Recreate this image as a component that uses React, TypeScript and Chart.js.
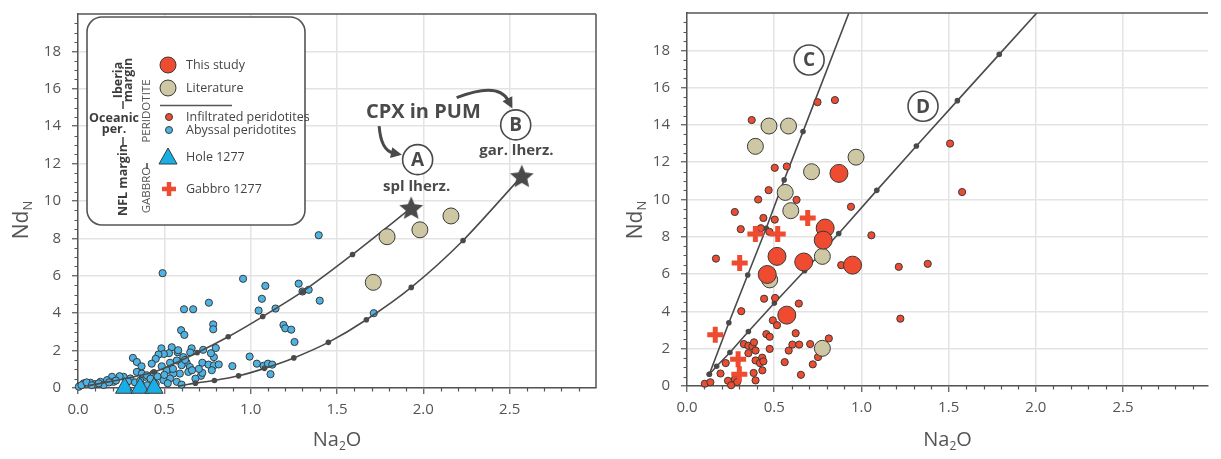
import React, { useEffect, useRef } from 'react';
import { Chart, registerables } from 'chart.js';
Chart.register(...registerables);

type P = [number, number];

// ---------- LEFT PANEL DATA ----------
const abyssalPeridotites: P[] = [
  [1.394, 8.17], [0.956, 5.84], [1.085, 5.46], [1.278, 5.58], [1.3, 5.16], [1.336, 5.25], [1.065, 4.77], [1.4, 4.67],
  [0.614, 4.21], [0.667, 4.21], [0.758, 4.56], [1.046, 4.14], [1.144, 4.25], [0.597, 3.09], [0.616, 2.84], [0.783, 3.4],
  [0.783, 3.14], [1.19, 3.37], [1.2, 3.19], [1.235, 3.12], [1.713, 4.0], [1.254, 2.46], [0.49, 6.14], [0.994, 1.68],
  [1.036, 1.3], [1.075, 1.19], [1.1, 1.3], [1.125, 1.25], [1.115, 0.74], [0.894, 1.17], [0.658, 2.12], [0.725, 2.04],
  [0.798, 2.14], [0.787, 1.65], [0.77, 1.86], [0.72, 1.35], [0.756, 1.25], [0.787, 1.21], [0.815, 1.26], [0.775, 0.95],
  [0.712, 0.65], [0.72, 0.81], [0.483, 2.12], [0.543, 2.18], [0.577, 1.91], [0.527, 1.86], [0.497, 1.82], [0.466, 1.79],
  [0.45, 1.56], [0.427, 1.3], [0.533, 1.35], [0.572, 1.47], [0.61, 1.65], [0.629, 1.35], [0.648, 1.12], [0.639, 0.86],
  [0.59, 0.77], [0.552, 0.77], [0.514, 0.95], [0.485, 1.16], [0.437, 0.77], [0.389, 0.6], [0.533, 0.51], [0.572, 0.33],
  [0.495, 0.42], [0.318, 1.61], [0.341, 1.39], [0.368, 1.16], [0.341, 0.86], [0.37, 0.77], [0.399, 0.68], [0.303, 0.51],
  [0.264, 0.6], [0.241, 0.63], [0.197, 0.6], [0.168, 0.42], [0.13, 0.33], [0.072, 0.28], [0.033, 0.25], [0.005, 0.07],
  [0.1, 0.21], [0.149, 0.16], [0.206, 0.33], [0.02, 0.15], [0.05, 0.3], [0.08, 0.15], [0.12, 0.25], [0.18, 0.3],
  [0.22, 0.4], [0.29, 0.35], [0.33, 0.3], [0.36, 0.4], [0.42, 0.5], [0.46, 0.62], [0.5, 0.7], [0.55, 1.02],
  [0.6, 1.22], [0.62, 1.5], [0.66, 0.95], [0.68, 0.5], [0.7, 1.02], [0.58, 2.02], [0.65, 1.9], [0.45, 0.22],
  [0.52, 0.25], [0.6, 0.18], [0.4, 0.15],
];
const hole1277: P[] = [[0.27, 0], [0.36, 0], [0.44, 0]];
const literatureLeft: P[] = [[1.71, 5.65], [1.79, 8.09], [1.98, 8.46], [2.16, 9.2]];
const modelCurveA: P[] = [[0.05, 0.1], [0.44, 0.86], [0.69, 1.89], [0.87, 2.74], [1.07, 3.82], [1.3, 5.15], [1.59, 7.14], [1.93, 9.63]];
const modelCurveB: P[] = [[0.58, 0.1], [0.68, 0.26], [0.79, 0.4], [0.93, 0.65], [1.08, 1.05], [1.25, 1.61], [1.45, 2.44], [1.67, 3.65], [1.93, 5.38], [2.23, 7.89], [2.57, 11.33]];
const splLherzolite: P[] = [[1.93, 9.63]];
const garLherzolite: P[] = [[2.57, 11.33]];

// ---------- RIGHT PANEL DATA ----------
const thisStudy: P[] = [[0.871, 11.4], [0.792, 8.47], [0.781, 7.82], [0.516, 6.95], [0.669, 6.65], [0.949, 6.48], [0.46, 5.98], [0.572, 3.8]];
const literatureRight: P[] = [[0.47, 13.94], [0.582, 13.94], [0.392, 12.85], [0.969, 12.27], [0.714, 11.49], [0.563, 10.38], [0.595, 9.4], [0.776, 6.95], [0.474, 5.69], [0.776, 2.02]];
const gabbro1277: P[] = [[0.692, 9.01], [0.392, 8.15], [0.52, 8.15], [0.302, 6.6], [0.162, 2.75], [0.293, 1.44], [0.3, 0.63]];
const infiltratedPeridotites: P[] = [
  [0.371, 14.26], [0.748, 15.22], [0.848, 15.33], [0.503, 11.7], [0.572, 11.77], [0.468, 10.5], [0.408, 10.0], [0.628, 9.98],
  [0.274, 9.33], [0.438, 9.01], [0.503, 8.92], [0.94, 9.61], [0.308, 8.41], [0.423, 8.46], [0.472, 8.27], [1.057, 8.08],
  [0.166, 6.83], [0.884, 6.48], [1.214, 6.39], [1.38, 6.55], [0.442, 4.68], [0.505, 4.72], [0.311, 4.01], [0.641, 4.42],
  [1.223, 3.61], [0.492, 3.52], [0.516, 3.26], [0.455, 2.78], [0.474, 2.64], [0.623, 2.83], [0.813, 2.55], [0.326, 2.25],
  [0.352, 2.16], [0.375, 2.13], [0.384, 2.34], [0.393, 1.9], [0.604, 2.22], [0.643, 2.22], [0.706, 2.25], [0.474, 1.99],
  [0.583, 1.9], [0.352, 1.76], [0.393, 1.37], [0.418, 1.23], [0.431, 1.52], [0.438, 1.32], [0.222, 1.23], [0.56, 1.28],
  [0.721, 1.16], [0.751, 1.55], [0.432, 0.84], [0.192, 0.67], [0.382, 0.7], [0.653, 0.6], [0.393, 0.3], [0.274, 0.35],
  [0.235, 0.28], [0.287, 0.21], [0.253, 0.04], [0.102, 0.12], [0.134, 0.2], [1.508, 13.0], [1.577, 10.4],
];
const modelLineC: P[] = [[0.128, 0.63], [0.24, 3.39], [0.348, 5.95], [0.454, 8.46], [0.557, 11.05], [0.665, 13.64], [0.928, 20]];
const modelLineD: P[] = [[0.128, 0.63], [0.17, 1.06], [0.246, 1.8], [0.352, 2.92], [0.501, 4.45], [0.674, 6.18], [0.87, 8.18], [1.088, 10.49], [1.315, 12.87], [1.55, 15.3], [1.79, 17.78], [2.005, 20]];

// ---------- TICKS ----------
const xTickValues = [0, 0.5, 1.0, 1.5, 2.0, 2.5];
const yTickValues = [0, 2, 4, 6, 8, 10, 12, 14, 16, 18];

// ---------- ANNOTATION ANCHORS (data units) ----------
const labelCPX: P = [2.0, 14.75];
const circleA: P = [1.967, 12.21];
const textSpl: P = [1.961, 10.74];
const circleB: P = [2.535, 14.07];
const textGar: P = [2.539, 12.68];
const arrow1: P[] = [[1.744, 14.0], [1.755, 12.7], [1.876, 12.47]];
const arrow2: P[] = [[2.193, 15.53], [2.435, 16.4], [2.516, 14.95]];
const circleC: P = [0.7, 17.48];
const circleD: P = [1.353, 15.0];

const FONT = "'Open Sans', 'Noto Sans', sans-serif";
const DARK = '#4a4a4a';
const RED = '#ee4b30';
const TAN = '#cdc7a3';
const BLUE = '#4db3e4';
const TRI = '#18afe6';
const EDGE = '#3a3a3a';
const TEXT = '#555555';

const pts = (a: P[]) => a.map(([x, y]) => ({ x, y }));

function makeStar(size: number, color: string) {
  const c = document.createElement('canvas');
  c.width = size; c.height = size;
  const g = c.getContext('2d')!;
  const cx = size / 2, cy = size / 2 + 1, R = size / 2 - 0.5, r = R * 0.46;
  g.beginPath();
  for (let i = 0; i < 10; i++) {
    const a = -Math.PI / 2 + (i * Math.PI) / 5;
    const rad = i % 2 === 0 ? R : r;
    g.lineTo(cx + rad * Math.cos(a), cy + rad * Math.sin(a));
  }
  g.closePath();
  g.fillStyle = color;
  g.fill();
  return c;
}

function subText(ctx: CanvasRenderingContext2D, main: string, sub: string, tail: string, cx: number, cy: number, rotate: boolean, size: number) {
  ctx.save();
  ctx.translate(cx, cy);
  if (rotate) ctx.rotate(-Math.PI / 2);
  ctx.fillStyle = TEXT;
  ctx.textBaseline = 'middle';
  ctx.textAlign = 'left';
  const big = `${size}px ${FONT}`;
  const small = `${Math.round(size * 0.62)}px ${FONT}`;
  ctx.font = big; const w1 = ctx.measureText(main).width; const w3 = ctx.measureText(tail).width;
  ctx.font = small; const w2 = ctx.measureText(sub).width;
  let x = -(w1 + w2 + w3) / 2;
  ctx.font = big; ctx.fillText(main, x, 0); x += w1;
  ctx.font = small; ctx.fillText(sub, x, size * 0.32); x += w2;
  ctx.font = big; ctx.fillText(tail, x, 0);
  ctx.restore();
}

function circleLabel(ctx: CanvasRenderingContext2D, x: number, y: number, letter: string) {
  ctx.save();
  ctx.beginPath();
  ctx.arc(x, y, 15, 0, Math.PI * 2);
  ctx.fillStyle = '#fff';
  ctx.fill();
  ctx.lineWidth = 1.6;
  ctx.strokeStyle = DARK;
  ctx.stroke();
  ctx.fillStyle = DARK;
  ctx.font = `bold 19px ${FONT}`;
  ctx.textAlign = 'center';
  ctx.textBaseline = 'middle';
  ctx.fillText(letter, x, y + 1);
  ctx.restore();
}

function curvedArrow(ctx: CanvasRenderingContext2D, p: { x: number; y: number }[]) {
  const [s, c, e] = p;
  ctx.save();
  ctx.strokeStyle = DARK;
  ctx.fillStyle = DARK;
  ctx.lineWidth = 3;
  const ang = Math.atan2(e.y - c.y, e.x - c.x);
  const L = 11, W = 5.5;
  const bx = e.x - Math.cos(ang) * L * 0.8, by = e.y - Math.sin(ang) * L * 0.8;
  ctx.beginPath();
  ctx.moveTo(s.x, s.y);
  ctx.quadraticCurveTo(c.x, c.y, bx, by);
  ctx.stroke();
  ctx.beginPath();
  ctx.moveTo(e.x, e.y);
  ctx.lineTo(e.x - Math.cos(ang) * L - Math.sin(ang) * W, e.y - Math.sin(ang) * L + Math.cos(ang) * W);
  ctx.lineTo(e.x - Math.cos(ang) * L + Math.sin(ang) * W, e.y - Math.sin(ang) * L - Math.cos(ang) * W);
  ctx.closePath();
  ctx.fill();
  ctx.restore();
}

const frameAndMinor = (drawRight: boolean) => ({
  id: 'frameMinor',
  afterDraw(chart: any) {
    const { ctx, chartArea: a, scales } = chart;
    const x = scales.x, y = scales.y;
    ctx.save();
    ctx.strokeStyle = '#555';
    ctx.lineWidth = 1.5;
    ctx.beginPath();
    ctx.moveTo(a.left, a.top); ctx.lineTo(a.right, a.top);
    if (drawRight) { ctx.moveTo(a.right, a.top); ctx.lineTo(a.right, a.bottom); }
    ctx.stroke();
    ctx.lineWidth = 1.2;
    ctx.beginPath();
    for (let i = 1; i * 0.1 <= x.max + 1e-9; i++) {
      if (i % 5 === 0) continue;
      const px = Math.round(x.getPixelForValue(i * 0.1)) + 0.5;
      ctx.moveTo(px, a.bottom); ctx.lineTo(px, a.bottom + 3.5);
    }
    for (let j = 1; j * 0.5 < y.max; j++) {
      if (j % 4 === 0) continue;
      const py = Math.round(y.getPixelForValue(j * 0.5)) + 0.5;
      ctx.moveTo(a.left - 3.5, py); ctx.lineTo(a.left, py);
    }
    ctx.stroke();
    ctx.restore();
  },
});

const axisTitles = (ndX: number) => ({
  id: 'axisTitles',
  afterDraw(chart: any) {
    const { ctx, chartArea: a } = chart;
    subText(ctx, 'Na', '2', 'O', (a.left + a.right) / 2, 440, false, 20);
    subText(ctx, 'Nd', 'N', '', ndX, 220, true, 21);
  },
});

const leftAnnotations = {
  id: 'leftAnnotations',
  afterDraw(chart: any) {
    const { ctx, scales } = chart;
    const px = (p: P) => ({ x: scales.x.getPixelForValue(p[0]), y: scales.y.getPixelForValue(p[1]) });
    ctx.save();
    ctx.fillStyle = DARK;
    ctx.textAlign = 'center';
    ctx.textBaseline = 'middle';
    ctx.font = `bold 20px ${FONT}`;
    const c = px(labelCPX); ctx.fillText('CPX in PUM', c.x, c.y);
    ctx.font = `bold 15px ${FONT}`;
    const s = px(textSpl); ctx.fillText('spl lherz.', s.x, s.y);
    const g = px(textGar); ctx.fillText('gar. lherz.', g.x, g.y);
    ctx.restore();
    const A = px(circleA); circleLabel(ctx, A.x, A.y, 'A');
    const B = px(circleB); circleLabel(ctx, B.x, B.y, 'B');
    curvedArrow(ctx, arrow1.map(px));
    curvedArrow(ctx, arrow2.map(px));

    // legend box
    ctx.save();
    const bx = 87, by = 17, bw = 218, bh = 208, r = 15;
    ctx.beginPath();
    ctx.moveTo(bx + r, by);
    ctx.arcTo(bx + bw, by, bx + bw, by + bh, r);
    ctx.arcTo(bx + bw, by + bh, bx, by + bh, r);
    ctx.arcTo(bx, by + bh, bx, by, r);
    ctx.arcTo(bx, by, bx + bw, by, r);
    ctx.closePath();
    ctx.fillStyle = '#fff';
    ctx.fill();
    ctx.lineWidth = 1.6;
    ctx.strokeStyle = '#555';
    ctx.stroke();

    const mark = (x: number, y: number, rad: number, fill: string) => {
      ctx.beginPath(); ctx.arc(x, y, rad, 0, Math.PI * 2);
      ctx.fillStyle = fill; ctx.fill();
      ctx.lineWidth = 1; ctx.strokeStyle = EDGE; ctx.stroke();
    };
    mark(168, 65, 8, RED);
    mark(168, 88, 8, TAN);
    mark(169, 117, 3.5, RED);
    mark(169, 130, 3.5, BLUE);
    // triangle
    ctx.beginPath();
    ctx.moveTo(168, 148); ctx.lineTo(177, 164); ctx.lineTo(159, 164); ctx.closePath();
    ctx.fillStyle = TRI; ctx.fill(); ctx.lineWidth = 1; ctx.strokeStyle = EDGE; ctx.stroke();
    // cross
    ctx.strokeStyle = RED; ctx.lineWidth = 4.5;
    ctx.beginPath(); ctx.moveTo(162, 189); ctx.lineTo(176, 189); ctx.moveTo(169, 182); ctx.lineTo(169, 196); ctx.stroke();
    // separator line
    ctx.strokeStyle = '#555'; ctx.lineWidth = 1.3;
    ctx.beginPath(); ctx.moveTo(160, 105.5); ctx.lineTo(232, 105.5); ctx.stroke();

    ctx.fillStyle = '#444';
    ctx.textAlign = 'left'; ctx.textBaseline = 'middle';
    ctx.font = `12.5px ${FONT}`;
    ctx.fillText('This study', 186, 65);
    ctx.fillText('Literature', 186, 88);
    ctx.fillText('Infiltrated peridotites', 186, 117);
    ctx.fillText('Abyssal peridotites', 186, 130);
    ctx.fillText('Hole 1277', 186, 157);
    ctx.fillText('Gabbro 1277', 186, 189);

    const rot = (t: string, x: number, y: number, font: string) => {
      ctx.save(); ctx.translate(x, y); ctx.rotate(-Math.PI / 2);
      ctx.font = font; ctx.textAlign = 'center'; ctx.textBaseline = 'middle';
      ctx.fillText(t, 0, 0); ctx.restore();
    };
    ctx.fillStyle = '#3c3c3c';
    rot('Iberia', 118, 80, `bold 12.5px ${FONT}`);
    rot('margin', 128, 80, `bold 12.5px ${FONT}`);
    rot('NFL margin', 123, 180, `bold 12.5px ${FONT}`);
    ctx.font = `bold 12.5px ${FONT}`; ctx.textAlign = 'center';
    ctx.fillText('Oceanic', 114, 118);
    ctx.fillText('per.', 114, 129);
    ctx.fillStyle = '#555';
    rot('PERIDOTITE', 147, 111, `11.5px ${FONT}`);
    rot('GABBRO', 147, 190, `11.5px ${FONT}`);
    ctx.strokeStyle = '#444'; ctx.lineWidth = 1.5;
    ctx.beginPath();
    ctx.moveTo(123, 101); ctx.lineTo(123, 109);
    ctx.moveTo(123, 137); ctx.lineTo(123, 145);
    ctx.moveTo(147, 163); ctx.lineTo(147, 169);
    ctx.stroke();
    ctx.restore();
  },
};

const rightAnnotations = {
  id: 'rightAnnotations',
  afterDraw(chart: any) {
    const { ctx, scales } = chart;
    const px = (p: P) => ({ x: scales.x.getPixelForValue(p[0]), y: scales.y.getPixelForValue(p[1]) });
    const C = px(circleC); circleLabel(ctx, C.x, C.y, 'C');
    const D = px(circleD); circleLabel(ctx, D.x, D.y, 'D');
  },
};

function options(xMax: number, yAxisWidth: number, xAxisHeight: number, padTop: number, padRight: number) {
  return {
    responsive: false,
    animation: false as const,
    devicePixelRatio: 1,
    events: [] as any[],
    layout: { padding: { top: padTop, right: padRight, left: 0, bottom: 0 } },
    plugins: { legend: { display: false }, tooltip: { enabled: false } },
    scales: {
      x: {
        type: 'linear' as const,
        min: 0,
        max: xMax,
        afterBuildTicks: (s: any) => { s.ticks = xTickValues.map((v) => ({ value: v })); },
        afterFit: (s: any) => { s.height = xAxisHeight; s.paddingLeft = 0; s.paddingRight = 0; s.paddingTop = 0; s.paddingBottom = 0; },
        grid: { color: '#e3e3e3', lineWidth: 1.5, tickLength: 6, tickColor: '#555', tickWidth: 1.2, drawTicks: true },
        border: { color: '#555', width: 1.5 },
        ticks: { color: TEXT, font: { family: FONT, size: 15 }, padding: 7, maxRotation: 0, autoSkip: false, callback: (v: any) => Number(v).toFixed(1) },
      },
      y: {
        type: 'linear' as const,
        min: 0,
        max: 20,
        afterBuildTicks: (s: any) => { s.ticks = yTickValues.map((v) => ({ value: v })); },
        afterFit: (s: any) => { s.width = yAxisWidth; s.paddingLeft = 0; s.paddingRight = 0; s.paddingTop = 0; s.paddingBottom = 0; },
        grid: { color: '#e3e3e3', lineWidth: 1.5, tickLength: 6, tickColor: '#555', tickWidth: 1.2, drawTicks: true },
        border: { color: '#555', width: 1.5 },
        ticks: { color: TEXT, font: { family: FONT, size: 15 }, padding: 11, autoSkip: false, callback: (v: any) => String(v) },
      },
    },
  };
}

const scatterSet = (data: P[], extra: any) => ({
  type: 'scatter' as const,
  data: pts(data),
  clip: false,
  pointBorderColor: EDGE,
  pointBorderWidth: 1,
  ...extra,
});

export default function App() {
  const leftRef = useRef<HTMLCanvasElement>(null);
  const rightRef = useRef<HTMLCanvasElement>(null);

  useEffect(() => {
    const star = makeStar(26, DARK);
    const curve = (data: P[], tension: number) => ({
      type: 'scatter' as const,
      data: pts(data),
      showLine: true,
      tension,
      borderColor: DARK,
      borderWidth: 1.6,
      pointRadius: (c: any) => (c.dataIndex === 0 || c.dataIndex === data.length - 1 ? 0 : 2.8),
      pointBackgroundColor: DARK,
      pointBorderWidth: 0,
    });

    const left = new Chart(leftRef.current!, {
      type: 'scatter',
      data: {
        datasets: [
          scatterSet(splLherzolite, { pointStyle: star, pointRadius: 13, order: 0 }),
          scatterSet(garLherzolite, { pointStyle: star, pointRadius: 13, order: 0 }),
          scatterSet(hole1277, { pointStyle: 'triangle', pointRadius: 10.5, pointBackgroundColor: TRI, order: 1 }),
          scatterSet(literatureLeft, { pointRadius: 8, pointBackgroundColor: TAN, order: 2 }),
          { ...curve(modelCurveA, 0.25), order: 3 },
          { ...curve(modelCurveB, 0.25), order: 3 },
          scatterSet(abyssalPeridotites, { pointRadius: 3.6, pointBackgroundColor: BLUE, order: 4 }),
        ],
      } as any,
      options: options(3, 78, 71, 8, 12) as any,
      plugins: [frameAndMinor(true), axisTitles(22), leftAnnotations],
    });

    const right = new Chart(rightRef.current!, {
      type: 'scatter',
      data: {
        datasets: [
          scatterSet(gabbro1277, { pointStyle: 'cross', pointRadius: 8, pointBorderColor: RED, pointBorderWidth: 5, order: 0 }),
          scatterSet(thisStudy, { pointRadius: 9, pointBackgroundColor: RED, order: 1 }),
          scatterSet(literatureRight, { pointRadius: 8, pointBackgroundColor: TAN, order: 2 }),
          scatterSet(infiltratedPeridotites, { pointRadius: 3.6, pointBackgroundColor: RED, order: 3 }),
          { ...curve(modelLineC, 0), order: 4, pointRadius: (c: any) => (c.dataIndex === modelLineC.length - 1 ? 0 : 2.8) },
          { ...curve(modelLineD, 0), order: 4, pointRadius: (c: any) => (c.dataIndex === modelLineD.length - 1 ? 0 : 2.8) },
        ],
      } as any,
      options: options((1221 - 687) / 178.8, 76, 73, 7, 0) as any,
      plugins: [frameAndMinor(false), axisTitles(25), rightAnnotations],
    });

    return () => { left.destroy(); right.destroy(); };
  }, []);

  return (
    <div style={{ position: 'fixed', left: 0, top: 0, width: 1221, height: 459, background: '#fff', overflow: 'hidden' }}>
      <canvas ref={leftRef} width={610} height={459} style={{ position: 'absolute', left: 0, top: 0, width: 610, height: 459 }} />
      <canvas ref={rightRef} width={610} height={459} style={{ position: 'absolute', left: 611, top: 0, width: 610, height: 459 }} />
    </div>
  );
}
